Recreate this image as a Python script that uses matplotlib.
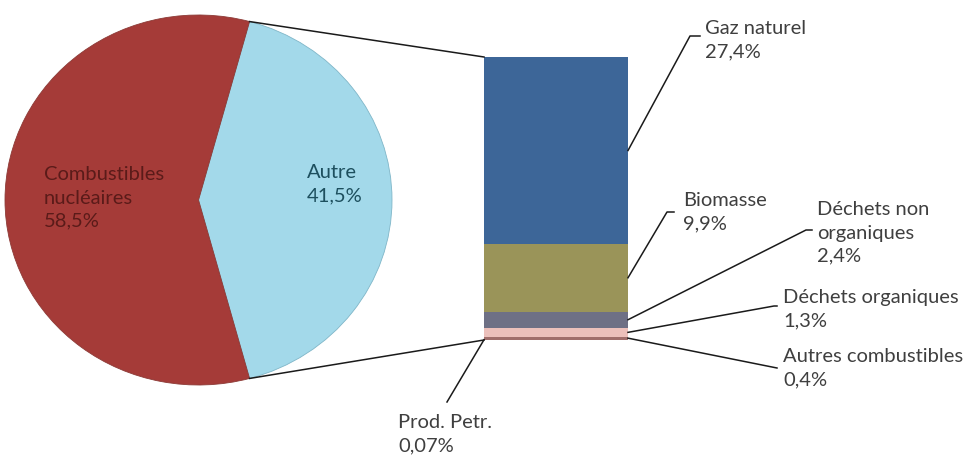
import numpy as np
import matplotlib.pyplot as plt

plt.rcParams['font.family'] = ['Lato', 'DejaVu Sans']

# Répartition globale
pie_labels = ['Autre', 'Combustibles\nnucléaires']
pie_values = [41.5, 58.5]
pie_pct = ['41,5%', '58,5%']
pie_colors = ['#a3d9ea', '#a53b38']
pie_text_colors = ['#1d4f5e', '#5a1b19']

# Détail de "Autre" (du bas vers le haut de la barre)
bar_labels = ['Prod. Petr.', 'Autres combustibles', 'Déchets organiques',
              'Déchets non\norganiques', 'Biomasse', 'Gaz naturel']
bar_values = [0.07, 0.4, 1.3, 2.4, 9.9, 27.4]
bar_pct = ['0,07%', '0,4%', '1,3%', '2,4%', '9,9%', '27,4%']
bar_colors = ['#7d4c4c', '#a06e6b', '#ecc0bb', '#6e7085', '#9a9459', '#3d6698']

W, H = 968, 457
FS = 14.5
fig = plt.figure(figsize=(W / 100, H / 100), dpi=100)

# Camembert (légèrement ovale) dans son propre repère
px0, py0, pw, ph = 5, H - 385, 387, 370
ax_pie = fig.add_axes([px0 / W, py0 / H, pw / W, ph / H])
start = pie_values[0] / 100 * 180  # tranche "Autre" centrée à droite
wedges, _ = ax_pie.pie(pie_values, colors=pie_colors, startangle=start,
                       counterclock=False, radius=1,
                       wedgeprops=dict(linewidth=0.6, edgecolor='#8c3a36'))
wedges[0].set_edgecolor('#7fb6c8')
ax_pie.set_aspect('auto')
ax_pie.set_xlim(-1, 1)
ax_pie.set_ylim(-1, 1)
ax_pie.axis('off')

# Repère principal en pixels, par-dessus le camembert
ax = fig.add_axes([0, 0, 1, 1])
ax.set_zorder(2)
ax.set_xlim(0, W)
ax.set_ylim(0, H)
ax.axis('off')

ax.text(307, H - 184, pie_labels[0] + '\n' + pie_pct[0], color=pie_text_colors[0],
        fontsize=FS, ha='left', va='center', linespacing=1.45)
ax.text(44, H - 198, pie_labels[1] + '\n' + pie_pct[1], color=pie_text_colors[1],
        fontsize=FS, ha='left', va='center', linespacing=1.45)


def pie_to_ax(angle_deg):
    a = np.radians(angle_deg)
    disp = ax_pie.transData.transform((np.cos(a), np.sin(a)))
    return ax.transData.inverted().transform(disp)


# Barre empilée
bx0, bx1 = 484, 628
by0, bh = H - 340, 283
scale = bh / sum(bar_values)
bottoms = np.concatenate([[0], np.cumsum(bar_values)[:-1]])
ax.bar((bx0 + bx1) / 2, np.array(bar_values) * scale, width=bx1 - bx0,
       bottom=by0 + bottoms * scale, color=bar_colors, linewidth=0)

# Liens camembert -> barre
top_pt = pie_to_ax(start)
bot_pt = pie_to_ax(start - pie_values[0] / 100 * 360)
bar_top = by0 + sum(bar_values) * scale
ax.plot([top_pt[0], bx0], [top_pt[1], bar_top], color='#1a1a1a', lw=1.1)
ax.plot([bot_pt[0], bx0], [bot_pt[1], by0], color='#1a1a1a', lw=1.1)

# Étiquettes des segments : (coude x, coude y, fin x, texte x, centre texte y)
label_layout = [
    (447, H - 402, 447, 398, H - 434),
    (777, H - 368, 777, 783, H - 368),
    (774, H - 306, 777, 783, H - 309),
    (806, H - 230, 812, 817, H - 233),
    (667, H - 212, 674, 683, H - 212),
    (690, H - 36, 700, 705, H - 40),
]
for i, (name, val) in enumerate(zip(bar_labels, bar_values)):
    mid = by0 + (bottoms[i] + val / 2) * scale
    x_anchor = bx0 if i == 0 else bx1
    ex, ey, hx, tx, ty = label_layout[i]
    ax.plot([x_anchor, ex, hx], [mid, ey, ey], color='#1a1a1a', lw=1.1)
    ax.text(tx, ty, name + '\n' + bar_pct[i], color='#3f3f3f', fontsize=FS,
            ha='left', va='center', linespacing=1.45)

fig.savefig('out.png', dpi=100)
